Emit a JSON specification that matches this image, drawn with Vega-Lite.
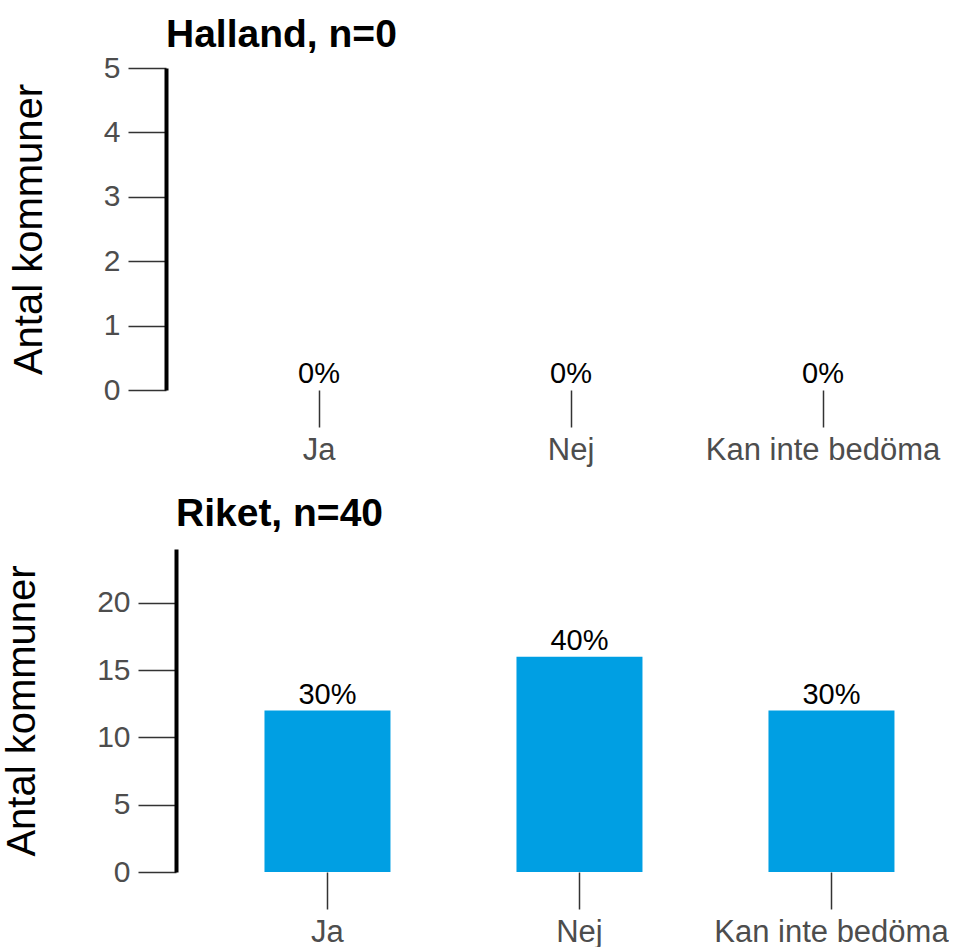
{
  "$schema": "https://vega.github.io/schema/vega-lite/v6.json",
  "padding": {"left": 2, "top": 16, "right": 0, "bottom": 0},
  "background": "white",
  "config": {"font": "Liberation Sans", "view": {"stroke": null}, "axis": {"grid": false, "labelLimit": 0}},
  "spacing": 30,
  "vconcat": [
    {
      "title": {"text": "Halland, n=0", "anchor": "start", "frame": "group", "fontSize": 39, "fontWeight": "bold", "color": "black", "dx": -10, "dy": 6},
      "width": 720,
      "height": 322,
      "data": {"values": [
        {"svar": "Ja", "antal": 0, "pct": "0%"},
        {"svar": "Nej", "antal": 0, "pct": "0%"},
        {"svar": "Kan inte bedöma", "antal": 0, "pct": "0%"}
      ]},
      "encoding": {
        "x": {"field": "svar", "type": "nominal", "sort": null,
          "scale": {"paddingInner": 0.5, "paddingOuter": 0.1786, "align": 0.889},
          "axis": {"title": null, "labelAngle": 0, "domain": false, "tickSize": 37, "tickColor": "#333333", "tickWidth": 1.5, "labelFontSize": 31, "labelColor": "#4d4d4d", "labelPadding": 8, "labelLimit": 0}},
        "y": {"field": "antal", "type": "quantitative", "scale": {"domain": [0, 5], "nice": false},
          "axis": {"values": [0, 1, 2, 3, 4, 5], "title": "Antal kommuner", "titleFontSize": 40, "titleFontWeight": "normal", "titleColor": "black", "titlePadding": 54, "domainColor": "black", "domainWidth": 4, "tickSize": 38, "tickColor": "#333333", "tickWidth": 1.5, "labelFontSize": 30, "labelColor": "#4d4d4d", "labelPadding": 8, "offset": 10}}
      },
      "layer": [
        {"mark": {"type": "bar", "color": "#009FE3"}},
        {"mark": {"type": "text", "baseline": "alphabetic", "dy": -7, "fontSize": 29, "color": "black"}, "encoding": {"text": {"field": "pct"}}}
      ]
    },
    {
      "title": {"text": "Riket, n=40", "anchor": "start", "frame": "group", "fontSize": 39, "fontWeight": "bold", "color": "black", "dy": -11},
      "width": 720,
      "height": 323,
      "data": {"values": [
        {"svar": "Ja", "antal": 12, "pct": "30%"},
        {"svar": "Nej", "antal": 16, "pct": "40%"},
        {"svar": "Kan inte bedöma", "antal": 12, "pct": "30%"}
      ]},
      "encoding": {
        "x": {"field": "svar", "type": "nominal", "sort": null,
          "scale": {"paddingInner": 0.5, "paddingOuter": 0.1786, "align": 0.983},
          "axis": {"title": null, "labelAngle": 0, "domain": false, "tickSize": 37, "tickColor": "#333333", "tickWidth": 1.5, "labelFontSize": 31, "labelColor": "#4d4d4d", "labelPadding": 8, "labelLimit": 0}},
        "y": {"field": "antal", "type": "quantitative", "scale": {"domain": [0, 24], "nice": false},
          "axis": {"values": [0, 5, 10, 15, 20], "title": "Antal kommuner", "titleFontSize": 40, "titleFontWeight": "normal", "titleColor": "black", "titlePadding": 54, "domainColor": "black", "domainWidth": 4, "tickSize": 38, "tickColor": "#333333", "tickWidth": 1.5, "labelFontSize": 30, "labelColor": "#4d4d4d", "labelPadding": 8}}
      },
      "layer": [
        {"mark": {"type": "bar", "color": "#009FE3"}},
        {"mark": {"type": "text", "baseline": "alphabetic", "dy": -7, "fontSize": 29, "color": "black"}, "encoding": {"text": {"field": "pct"}}}
      ]
    }
  ]
}
